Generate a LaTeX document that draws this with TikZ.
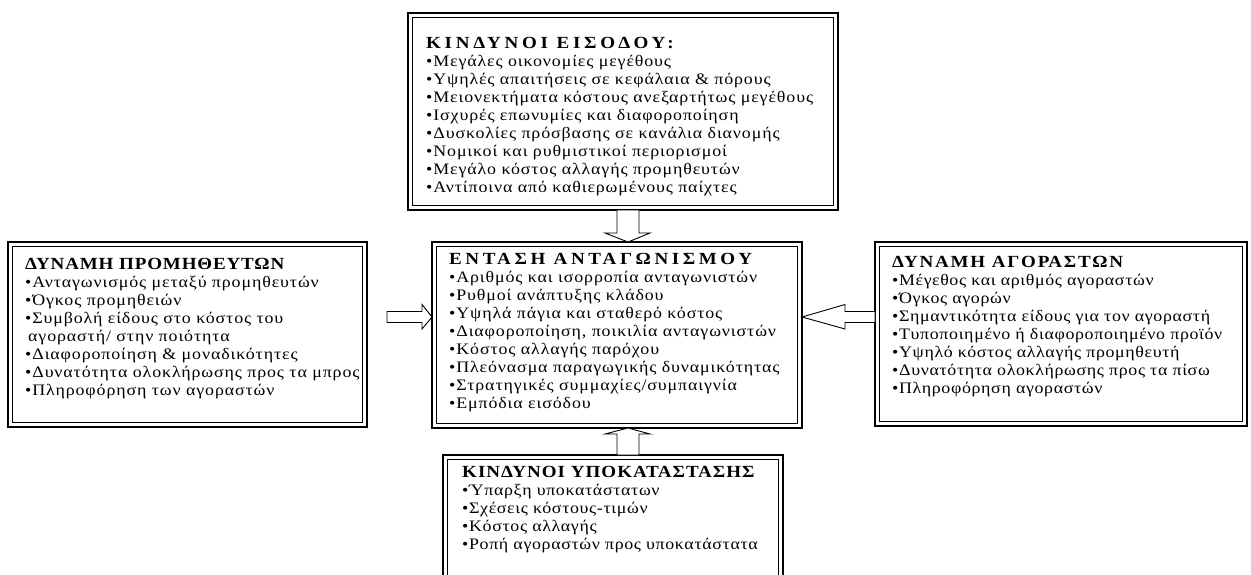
\documentclass[tikz,border=0pt]{standalone}
\usepackage{fontspec}
\setmainfont{Liberation Serif}[FakeStretch=1.12, LetterSpace=5.5]
\newfontfamily\headfont{Liberation Serif}[FakeStretch=1.12]
\usetikzlibrary{calc}

\tikzset{
  frame/.style={draw, line width=1.6pt, inner sep=0pt, outer sep=0pt,
                anchor=north west, fill=white},
  boxtext/.style={anchor=north west, inner sep=0pt, align=left,
                  font=\fontsize{16}{18}\selectfont},
  tightertext/.style={boxtext, font=\fontsize{16}{18}\selectfont\addfontfeatures{LetterSpace=4}},
  innerline/.style={line width=0.7pt},
  blockarrow/.style={draw, fill=white, line width=0.9pt, line join=miter},
}

% bold heading line of a box; #1 is its letter spacing
\newcommand\heading[2]{{\headfont\bfseries\fontsize{17}{18}\selectfont
  \addfontfeatures{LetterSpace=#1}#2}}

% thin second line just inside a framed box
\newcommand\innerframe[1]{%
  \draw[innerline] ($(#1.north west)+(4.5,4.5)$) rectangle ($(#1.south east)+(-4.5,-4.5)$);}

\begin{document}
\begin{tikzpicture}[x=1pt, y=-1pt]
\useasboundingbox (0,0) rectangle (1251,574);
\begin{scope}
\clip (0,0) rectangle (1251,574);

% ---- frames ----
\node[frame, minimum width=430pt, minimum height=197pt] (entry) at (408,13) {};
\node[frame, minimum width=370pt, minimum height=186pt] (rivalry) at (432,242) {};
\node[frame, minimum width=359pt, minimum height=185pt] (suppliers) at (8,242) {};
\node[frame, minimum width=372pt, minimum height=184pt] (buyers) at (875,242) {};
\node[frame, minimum width=340pt, minimum height=150pt] (substitutes) at (443,455) {};

\innerframe{entry}
\innerframe{rivalry}
\innerframe{suppliers}
\innerframe{buyers}
\innerframe{substitutes}

% ---- texts ----
\node[boxtext] (entrytxt) at (426,37) {%
  \heading{22}{ΚΙΝΔΥΝΟΙ ΕΙΣΟΔΟΥ:}\\
  •Μεγάλες οικονομίες μεγέθους\\
  •Υψηλές απαιτήσεις σε κεφάλαια \& πόρους\\
  •Μειονεκτήματα κόστους ανεξαρτήτως μεγέθους\\
  •Ισχυρές επωνυμίες και διαφοροποίηση\\
  •Δυσκολίες πρόσβασης σε κανάλια διανομής\\
  •Νομικοί και ρυθμιστικοί περιορισμοί\\
  •Μεγάλο κόστος αλλαγής προμηθευτών\\
  •Αντίποινα από καθιερωμένους παίχτες};

\node[boxtext] (rivalrytxt) at (449,253) {%
  \heading{21}{ΕΝΤΑΣΗ ΑΝΤΑΓΩΝΙΣΜΟΥ}\\
  •Αριθμός και ισορροπία ανταγωνιστών\\
  •Ρυθμοί ανάπτυξης κλάδου\\
  •Υψηλά πάγια και σταθερό κόστος\\
  •Διαφοροποίηση, ποικιλία ανταγωνιστών\\
  •Κόστος αλλαγής παρόχου\\
  •Πλεόνασμα παραγωγικής δυναμικότητας\\
  •Στρατηγικές συμμαχίες/συμπαιγνία\\
  •Εμπόδια εισόδου};

\node[boxtext] (supplierstxt) at (25,258) {%
  \heading{5}{ΔΥΝΑΜΗ ΠΡΟΜΗΘΕΥΤΩΝ}\\
  •Ανταγωνισμός μεταξύ προμηθευτών\\
  •Όγκος προμηθειών\\
  •Συμβολή είδους στο κόστος του\\
  \hspace*{3pt}αγοραστή/ στην ποιότητα\\
  •Διαφοροποίηση \& μοναδικότητες\\
  •Δυνατότητα ολοκλήρωσης προς τα μπρος\\
  •Πληροφόρηση των αγοραστών};

\node[tightertext] (buyerstxt) at (892,256) {%
  \heading{10.5}{ΔΥΝΑΜΗ ΑΓΟΡΑΣΤΩΝ}\\
  •Μέγεθος και αριθμός αγοραστών\\
  •Όγκος αγορών\\
  •Σημαντικότητα είδους για τον αγοραστή\\
  •Τυποποιημένο ή διαφοροποιημένο προϊόν\\
  •Υψηλό κόστος αλλαγής προμηθευτή\\
  •Δυνατότητα ολοκλήρωσης προς τα πίσω\\
  •Πληροφόρηση αγοραστών};

\node[tightertext] (substitutestxt) at (462,466) {%
  \heading{6}{ΚΙΝΔΥΝΟΙ ΥΠΟΚΑΤΑΣΤΑΣΗΣ}\\
  •Ύπαρξη υποκατάστατων\\
  •Σχέσεις κόστους-τιμών\\
  •Κόστος αλλαγής\\
  •Ροπή αγοραστών προς υποκατάστατα};

% ---- block arrows ----
\coordinate (vaxis) at (628,0);
\coordinate (haxis) at (0,317);

% entry -> rivalry (down)
\draw[blockarrow] ($(vaxis |- entry.south)+(-11,0)$) -- ++(0,23) -- ++(-12,0)
  -- (vaxis |- rivalry.north) -- ($(vaxis |- entry.south)+(22,23)$) -- ++(-11,0)
  -- ($(vaxis |- entry.south)+(11,0)$) -- cycle;

% substitutes -> rivalry (up)
\draw[blockarrow] ($(vaxis |- substitutes.north)+(-11,0)$) -- ++(0,-21) -- ++(-12,0)
  -- (vaxis |- rivalry.south) -- ($(vaxis |- substitutes.north)+(22,-21)$) -- ++(-11,0)
  -- ($(vaxis |- substitutes.north)+(11,0)$) -- cycle;

% suppliers -> rivalry (right)
\draw[blockarrow] ($(haxis -| suppliers.east)+(20,-5.5)$) -- ++(35,0) -- ++(0,-7)
  -- (haxis -| rivalry.west) -- ($(haxis -| suppliers.east)+(55,12)$) -- ++(0,-6.5)
  -- ($(haxis -| suppliers.east)+(20,5.5)$) -- cycle;

% buyers -> rivalry (left)
\draw[blockarrow] ($(haxis -| buyers.west)+(0,-5.5)$) -- ++(-30,0) -- ++(0,-7)
  -- (haxis -| rivalry.east) -- ($(haxis -| buyers.west)+(-30,12)$) -- ++(0,-6.5)
  -- ($(haxis -| buyers.west)+(0,5.5)$) -- cycle;

\end{scope}
\end{tikzpicture}
\end{document}
